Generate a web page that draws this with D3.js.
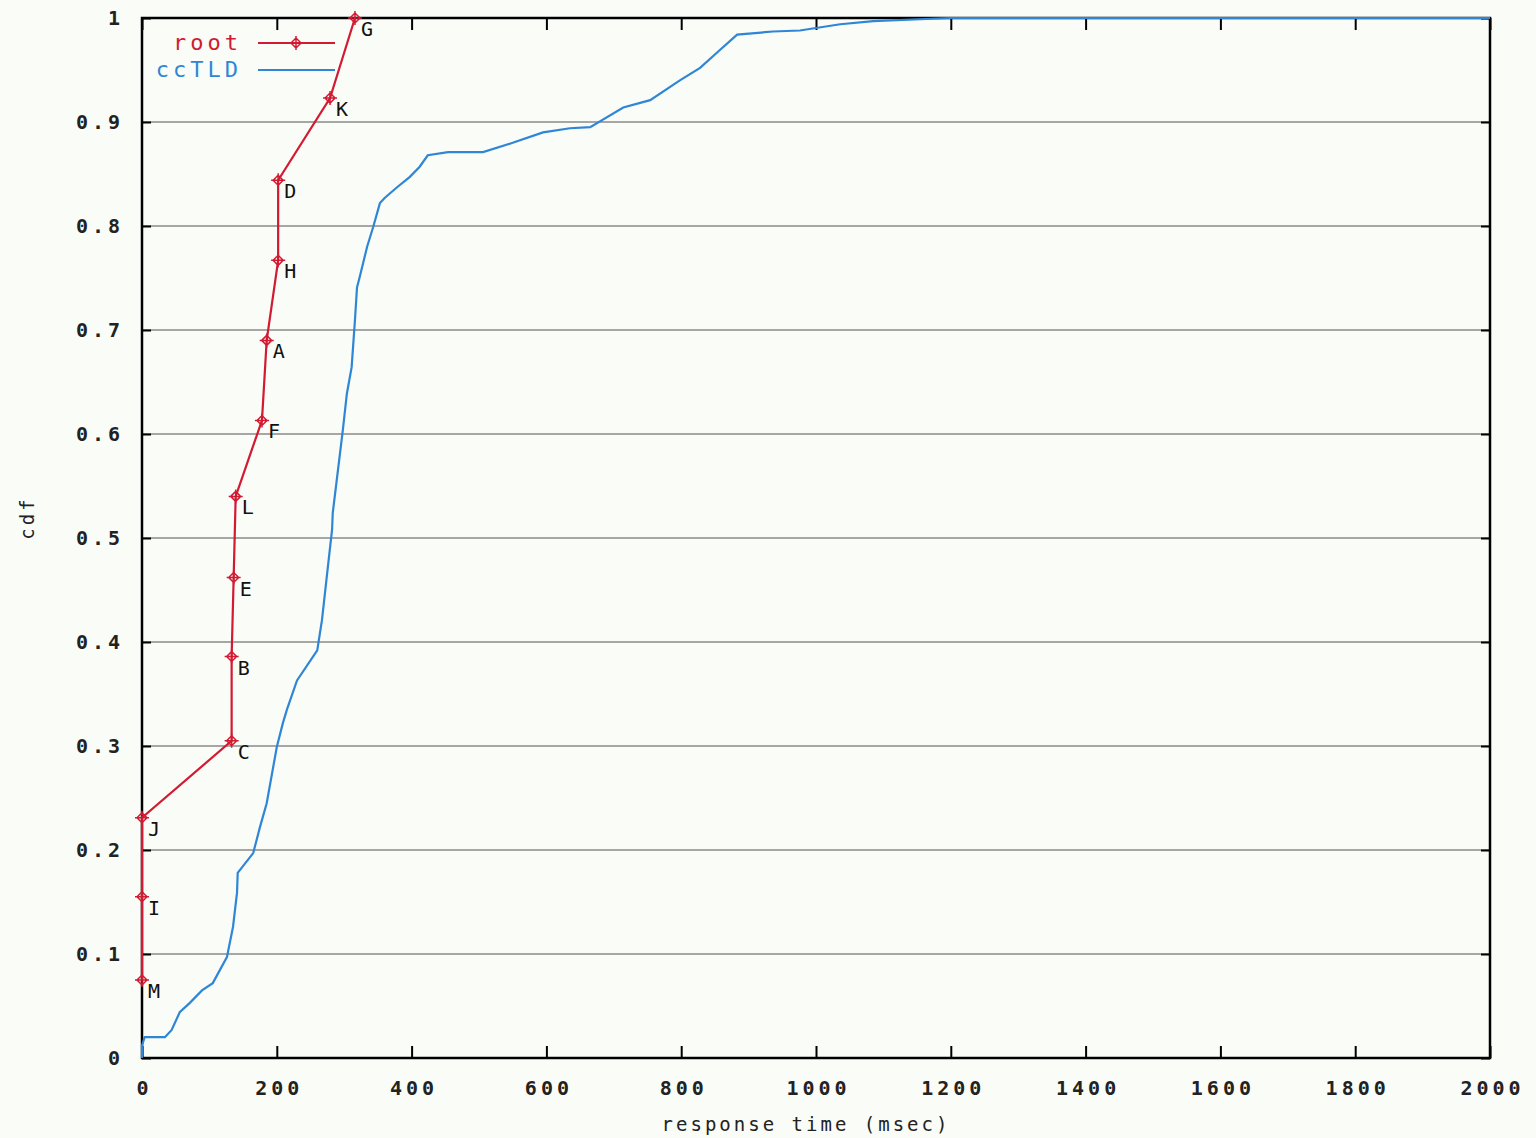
<!DOCTYPE html>
<html>
<head>
<meta charset="utf-8">
<script src="https://cdn.jsdelivr.net/npm/d3@7"></script>
<style>
  body { margin: 0; background: #f9fcf7; }
  text { font-family: "DejaVu Sans Mono", "Liberation Mono", monospace; }
</style>
</head>
<body>
<div id="chart-area"></div>
<script>
// root servers: letter, response time (msec), cdf
const rootNames = ["M", "I", "J", "C", "B", "E", "L", "F", "A", "H", "D", "K", "G"]
const rootTimes = [0, 0, 0, 133, 133, 136, 139, 178, 185, 202, 202, 279, 316]
const rootCdf = [0.075, 0.155, 0.231, 0.305, 0.386, 0.462, 0.540, 0.613, 0.690, 0.767, 0.844, 0.923, 1.0]

// ccTLD distribution
const tldTimes = [0, 0, 4, 34, 44, 56, 71, 89, 105, 126, 135, 141, 142, 165, 175, 185, 200, 209, 215, 230,
  260, 267, 274, 282, 283, 298, 304, 311, 316, 319, 323, 334, 343, 353, 360, 378, 397, 412, 424, 454,
  506, 550, 595, 635, 665, 714, 754, 798, 828, 857, 883, 936, 976, 1036, 1085, 1199, 2000]
const tldCdf = [0, 0.012, 0.020, 0.020, 0.027, 0.044, 0.053, 0.065, 0.072, 0.097, 0.126, 0.159, 0.178, 0.197,
  0.222, 0.245, 0.299, 0.322, 0.335, 0.363, 0.392, 0.421, 0.462, 0.508, 0.524, 0.604, 0.639, 0.664, 0.710,
  0.741, 0.751, 0.780, 0.799, 0.822, 0.827, 0.837, 0.847, 0.857, 0.868, 0.871, 0.871, 0.880, 0.890, 0.894,
  0.895, 0.914, 0.921, 0.940, 0.952, 0.969, 0.984, 0.987, 0.988, 0.994, 0.997, 1.0, 1.0]

const xTicks = [0, 200, 400, 600, 800, 1000, 1200, 1400, 1600, 1800, 2000]
const yTicks = [0, 0.1, 0.2, 0.3, 0.4, 0.5, 0.6, 0.7, 0.8, 0.9, 1]

const RED = "#d21a32"
const BLUE = "#2f86d6"

const MARGIN = { LEFT: 142, RIGHT: 46, TOP: 18, BOTTOM: 80 }
const WIDTH = 1536 - MARGIN.LEFT - MARGIN.RIGHT
const HEIGHT = 1138 - MARGIN.TOP - MARGIN.BOTTOM

const svg = d3.select("#chart-area").append("svg")
  .attr("width", 1536)
  .attr("height", 1138)

svg.append("rect").attr("width", 1536).attr("height", 1138).attr("fill", "#f9fcf7")

const g = svg.append("g")
  .attr("transform", `translate(${MARGIN.LEFT}, ${MARGIN.TOP})`)

const x = d3.scaleLinear().domain([0, 2000]).range([0, WIDTH])
const y = d3.scaleLinear().domain([0, 1]).range([HEIGHT, 0])

// horizontal grid
g.append("g")
  .selectAll("line")
  .data(yTicks.slice(1, -1))
  .enter().append("line")
    .attr("x1", 0).attr("x2", WIDTH)
    .attr("y1", d => y(d)).attr("y2", d => y(d))
    .attr("stroke", "#8a8a8a")
    .attr("stroke-width", 1.5)

// axes (ticks pointing inward)
const xAxisCall = d3.axisBottom(x).tickValues(xTicks).tickSize(-12).tickPadding(23).tickFormat(d3.format("d"))
g.append("g")
  .attr("class", "xaxis")
  .attr("transform", `translate(0, ${HEIGHT})`)
  .call(xAxisCall)
  .call(a => a.select(".domain").remove())
g.selectAll(".xaxis .tick text").attr("dx", "2px")

g.append("g")
  .call(d3.axisTop(x).tickValues(xTicks).tickSize(-12).tickFormat(""))
  .call(a => a.select(".domain").remove())

const yAxisCall = d3.axisLeft(y).tickValues(yTicks).tickSize(-9).tickPadding(18)
  .tickFormat(d => d === 0 ? "0" : d === 1 ? "1" : d.toFixed(1))
g.append("g")
  .call(yAxisCall)
  .call(a => a.select(".domain").remove())

g.append("g")
  .attr("transform", `translate(${WIDTH}, 0)`)
  .call(d3.axisRight(y).tickValues(yTicks).tickSize(-9).tickFormat(""))
  .call(a => a.select(".domain").remove())

g.selectAll(".tick line").attr("stroke", "#000").attr("stroke-width", 2)
g.selectAll(".tick text").attr("font-size", "20px").attr("fill", "#222")
  .attr("letter-spacing", "4px").attr("font-weight", "bold")

// border
g.append("rect")
  .attr("width", WIDTH).attr("height", HEIGHT)
  .attr("fill", "none").attr("stroke", "#000").attr("stroke-width", 2.5)

// axis labels
g.append("text")
  .attr("x", WIDTH / 2 - 10)
  .attr("y", HEIGHT + 73)
  .attr("font-size", "19px")
  .attr("letter-spacing", "3px")
  .attr("text-anchor", "middle")
  .attr("fill", "#222")
  .text("response time (msec)")

g.append("text")
  .attr("x", -(HEIGHT / 2) + 20)
  .attr("y", -108)
  .attr("font-size", "19px")
  .attr("letter-spacing", "3px")
  .attr("text-anchor", "middle")
  .attr("transform", "rotate(-90)")
  .attr("fill", "#222")
  .text("cdf")

// ccTLD line
const tldData = tldTimes.map((t, i) => ({ t: t, c: tldCdf[i] }))
g.append("path")
  .datum(tldData)
  .attr("fill", "none")
  .attr("stroke", BLUE)
  .attr("stroke-width", 2.2)
  .attr("d", d3.line().x(d => x(d.t)).y(d => y(d.c)))

// root line
const rootData = rootNames.map((n, i) => ({ n: n, t: rootTimes[i], c: rootCdf[i] }))
g.append("path")
  .datum(rootData)
  .attr("fill", "none")
  .attr("stroke", RED)
  .attr("stroke-width", 2.2)
  .attr("d", d3.line().x(d => x(d.t)).y(d => y(d.c)))

const marker = (sel) => {
  sel.append("path")
    .attr("d", "M-5,0 L0,-5 L5,0 L0,5 Z M-7,0 H7 M0,-7 V7")
    .attr("fill", "none")
    .attr("stroke", RED)
    .attr("stroke-width", 1.5)
}

const pts = g.selectAll(".pt")
  .data(rootData)
  .enter().append("g")
    .attr("class", "pt")
    .attr("transform", d => `translate(${x(d.t)}, ${y(d.c)})`)
pts.call(marker)
pts.append("text")
  .attr("x", 6)
  .attr("y", 18)
  .attr("font-size", "20px")
  .attr("fill", "#111")
  .text(d => d.n)

// legend
const legend = g.append("g")
legend.append("text").attr("x", 100).attr("y", 32).attr("text-anchor", "end")
  .attr("font-size", "22px").attr("letter-spacing", "4px").attr("fill", RED).text("root")
legend.append("line").attr("x1", 116).attr("x2", 193).attr("y1", 25).attr("y2", 25)
  .attr("stroke", RED).attr("stroke-width", 2.2)
legend.append("g").attr("transform", "translate(154, 25)").call(marker)
legend.append("text").attr("x", 100).attr("y", 59).attr("text-anchor", "end")
  .attr("font-size", "22px").attr("letter-spacing", "4px").attr("fill", BLUE).text("ccTLD")
legend.append("line").attr("x1", 116).attr("x2", 193).attr("y1", 52).attr("y2", 52)
  .attr("stroke", BLUE).attr("stroke-width", 2.2)
</script>
</body>
</html>
